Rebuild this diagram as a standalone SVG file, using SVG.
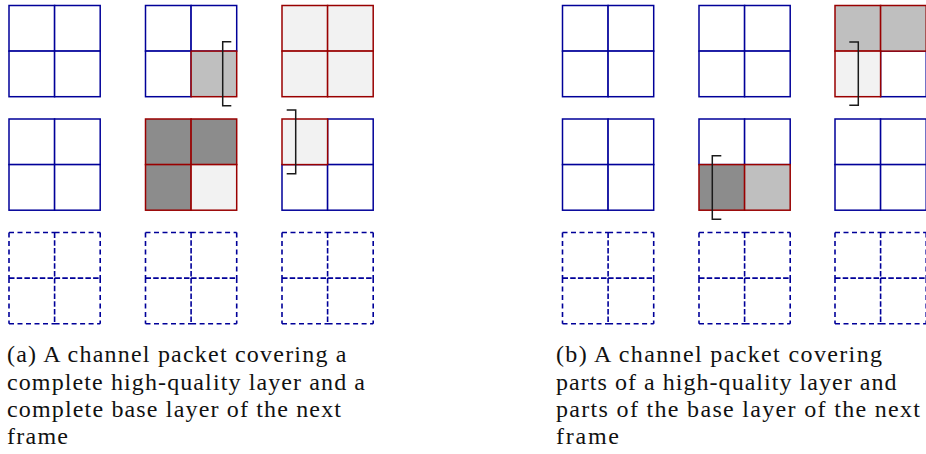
<svg xmlns="http://www.w3.org/2000/svg" xmlns:xlink="http://www.w3.org/1999/xlink" width="926" height="454" viewBox="0 0 926 454">
<style>
.b{fill:#ffffff;stroke:#000099;stroke-width:1.5}
.r{stroke:#990000;stroke-width:1.5}
.d{fill:none;stroke:#000099;stroke-width:1.6;stroke-dasharray:5 3.5}
.di{fill:none;stroke:#000099;stroke-width:1.6;stroke-dasharray:5.5 2.2}
.l1{fill:#f2f2f2}
.l2{fill:#bfbfbf}
.l3{fill:#8c8c8c}
.br{fill:none;stroke:#1a1a1a;stroke-width:1.5}
.t{fill:#111111}
</style>
<defs>
<g id="bg">
<rect class="b" x="0" y="0" width="45.6" height="45.6"/>
<rect class="b" x="45.6" y="0" width="45.6" height="45.6"/>
<rect class="b" x="0" y="45.6" width="45.6" height="45.6"/>
<rect class="b" x="45.6" y="45.6" width="45.6" height="45.6"/>
</g>
<g id="dg">
<path class="d" d="M0,0H45.6M45.6,0H91.2M0,91.2H45.6M45.6,91.2H91.2M0,0V45.6M0,45.6V91.2M91.2,0V45.6M91.2,45.6V91.2"/>
<path class="di" d="M0,45.6H45.6M45.6,45.6H91.2M45.6,0V45.6M45.6,45.6V91.2"/>
</g>
</defs>

<!-- (a) -->
<g id="a-r1c1"><use xlink:href="#bg" x="9" y="5.5"/></g>
<g id="a-r1c2">
<rect class="b" x="145.5" y="5.5" width="45.6" height="45.6"/>
<rect class="b" x="191.1" y="5.5" width="45.6" height="45.6"/>
<rect class="b" x="145.5" y="51.1" width="45.6" height="45.6"/>
<rect class="r l2" x="191.1" y="51.1" width="45.6" height="45.6"/>
</g>
<g id="a-r1c3">
<rect class="r l1" x="282" y="5.5" width="45.6" height="45.6"/>
<rect class="r l1" x="327.6" y="5.5" width="45.6" height="45.6"/>
<rect class="r l1" x="282" y="51.1" width="45.6" height="45.6"/>
<rect class="r l1" x="327.6" y="51.1" width="45.6" height="45.6"/>
</g>
<g id="a-r2c1"><use xlink:href="#bg" x="9" y="119"/></g>
<g id="a-r2c2">
<rect class="r l3" x="145.5" y="119" width="45.6" height="45.6"/>
<rect class="r l3" x="191.1" y="119" width="45.6" height="45.6"/>
<rect class="r l3" x="145.5" y="164.6" width="45.6" height="45.6"/>
<rect class="r l1" x="191.1" y="164.6" width="45.6" height="45.6"/>
</g>
<g id="a-r2c3">
<rect class="b" x="327.6" y="119" width="45.6" height="45.6"/>
<rect class="b" x="282" y="164.6" width="45.6" height="45.6"/>
<rect class="b" x="327.6" y="164.6" width="45.6" height="45.6"/>
<rect class="r l1" x="282" y="119" width="45.6" height="45.6"/>
</g>
<g id="a-r3c1"><use xlink:href="#dg" x="9" y="232.5"/></g>
<g id="a-r3c2"><use xlink:href="#dg" x="145.5" y="232.5"/></g>
<g id="a-r3c3"><use xlink:href="#dg" x="282" y="232.5"/></g>

<!-- (b) -->
<g id="b-r1c1"><use xlink:href="#bg" x="562.5" y="5.5"/></g>
<g id="b-r1c2"><use xlink:href="#bg" x="699" y="5.5"/></g>
<g id="b-r1c3">
<rect class="b" x="880.6" y="51.1" width="45.6" height="45.6"/>
<rect class="r l2" x="835" y="5.5" width="45.6" height="45.6"/>
<rect class="r l2" x="880.6" y="5.5" width="45.6" height="45.6"/>
<rect class="r l1" x="835" y="51.1" width="45.6" height="45.6"/>
</g>
<g id="b-r2c1"><use xlink:href="#bg" x="562.5" y="119"/></g>
<g id="b-r2c2">
<rect class="b" x="699" y="119" width="45.6" height="45.6"/>
<rect class="b" x="744.6" y="119" width="45.6" height="45.6"/>
<rect class="r l3" x="699" y="164.6" width="45.6" height="45.6"/>
<rect class="r l2" x="744.6" y="164.6" width="45.6" height="45.6"/>
</g>
<g id="b-r2c3"><use xlink:href="#bg" x="835" y="119"/></g>
<g id="b-r3c1"><use xlink:href="#dg" x="562.5" y="232.5"/></g>
<g id="b-r3c2"><use xlink:href="#dg" x="699" y="232.5"/></g>
<g id="b-r3c3"><use xlink:href="#dg" x="835" y="232.5"/></g>

<g id="connectors">
<path class="br" d="M231.3,41.7 H222.7 V105.7 H231.3"/>
<path class="br" d="M286.7,110 H295.7 V173.7 H286.7"/>
<path class="br" d="M849.3,42 H858.3 V105.3 H849.3"/>
<path class="br" d="M721.3,155.7 H712.3 V219.3 H721.3"/>
</g>

<g id="caption-a" font-family="'Liberation Serif', 'DejaVu Serif', serif" font-size="24" class="t">
<text x="7" y="362" textLength="339.5" lengthAdjust="spacing">(a) A channel packet covering a</text>
<text x="7" y="389.5" textLength="358" lengthAdjust="spacing">complete high-quality layer and a</text>
<text x="7" y="416.8" textLength="334" lengthAdjust="spacing">complete base layer of the next</text>
<text x="7" y="443.5" textLength="61" lengthAdjust="spacing">frame</text>
</g>
<g id="caption-b" font-family="'Liberation Serif', 'DejaVu Serif', serif" font-size="24" class="t">
<text x="556" y="362" textLength="326" lengthAdjust="spacing">(b) A channel packet covering</text>
<text x="556" y="389.5" textLength="340.5" lengthAdjust="spacing">parts of a high-quality layer and</text>
<text x="556" y="416.8" textLength="364" lengthAdjust="spacing">parts of the base layer of the next</text>
<text x="556" y="443.5" textLength="63" lengthAdjust="spacing">frame</text>
</g>
</svg>
